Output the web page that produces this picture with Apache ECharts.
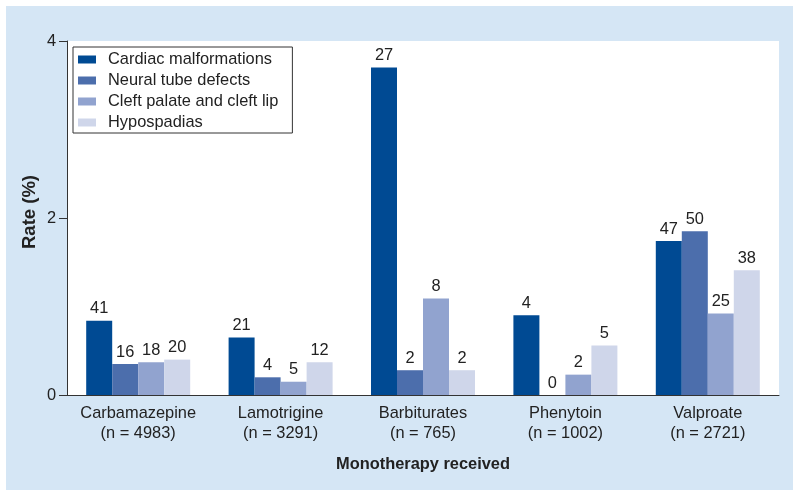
<!DOCTYPE html>
<html>
<head>
<meta charset="utf-8">
<script src="https://cdn.jsdelivr.net/npm/echarts@6/dist/echarts.min.js"></script>
<style>html,body{margin:0;padding:0;background:#fff}#c{width:800px;height:497px}</style>
</head>
<body>
<div id="c"></div>
<script>
const categories = ['Carbamazepine\n(n = 4983)', 'Lamotrigine\n(n = 3291)', 'Barbiturates\n(n = 765)', 'Phenytoin\n(n = 1002)', 'Valproate\n(n = 2721)'];
const seriesNames = ['Cardiac malformations', 'Neural tube defects', 'Cleft palate and cleft lip', 'Hypospadias'];
const cardiacRate = [0.84, 0.65, 3.70, 0.90, 1.74];
const neuralRate = [0.35, 0.20, 0.28, 0, 1.85];
const cleftRate = [0.37, 0.15, 1.09, 0.23, 0.92];
const hypoRate = [0.40, 0.37, 0.28, 0.56, 1.41];
const cardiacCount = [41, 21, 27, 4, 47];
const neuralCount = [16, 4, 2, 0, 50];
const cleftCount = [18, 5, 8, 2, 25];
const hypoCount = [20, 12, 2, 5, 38];
const yTicks = [0, 2, 4];
const yTitle = 'Rate (%)';

const colors = ['#004a93', '#4c6eac', '#91a3cf', '#cfd6ea'];
const rates = [cardiacRate, neuralRate, cleftRate, hypoRate];
const counts = [cardiacCount, neuralCount, cleftCount, hypoCount];
const FONT = '"Liberation Sans", Arial, Helvetica, sans-serif';
const FS = 16.4;

const chart = echarts.init(document.getElementById('c'), null, {renderer: 'canvas'});
chart.setOption({
  animation: false,
  backgroundColor: '#ffffff',
  textStyle: {fontFamily: FONT},
  graphic: [{
    type: 'rect', z: -10, silent: true,
    shape: {x: 6, y: 6, width: 787, height: 484},
    style: {fill: '#d5e6f5'}
  }, {
    type: 'text', z: 10, silent: true,
    x: 30, y: 212, rotation: Math.PI / 2,
    style: {text: yTitle, fill: '#222', fontSize: 18.5, fontWeight: 'bold', fontFamily: FONT,
      align: 'center', verticalAlign: 'middle'}
  }],
  grid: {left: 67, right: 21, top: 41, bottom: 102, show: true, backgroundColor: '#ffffff', borderWidth: 0},
  legend: {
    orient: 'vertical', left: 73, top: 47,
    padding: [4, 14, 2, 5],
    itemWidth: 18, itemHeight: 8, itemGap: 4,
    borderColor: '#333', borderWidth: 1, backgroundColor: '#fff',
    icon: 'rect',
    textStyle: {fontSize: FS, color: '#222', fontFamily: FONT, lineHeight: 17, padding: [0, 0, 0, 7]},
    data: seriesNames
  },
  xAxis: {
    type: 'category', data: categories,
    name: 'Monotherapy received', nameLocation: 'middle', nameGap: 61,
    nameTextStyle: {fontSize: FS, fontWeight: 'bold', color: '#222', fontFamily: FONT},
    axisLine: {lineStyle: {color: '#333', width: 1}},
    axisTick: {length: 8, lineStyle: {color: '#333'}},
    axisLabel: {fontSize: FS, color: '#222', lineHeight: 20, margin: 8, fontFamily: FONT, interval: 0, hideOverlap: false}
  },
  yAxis: {
    type: 'value', min: 0, max: 4, interval: 2,
    axisLine: {show: true, lineStyle: {color: '#333', width: 1}},
    axisTick: {show: true, length: 8, lineStyle: {color: '#333'}},
    splitLine: {show: false},
    axisLabel: {fontSize: FS, color: '#222', margin: 11, fontFamily: FONT,
      formatter: v => yTicks.includes(v) ? String(v) : ''}
  },
  series: seriesNames.map((name, i) => ({
    name, type: 'bar', barWidth: 26, barGap: '0%',
    itemStyle: {color: colors[i]},
    label: {
      show: true, position: 'top', distance: 4, fontSize: FS, color: '#222', fontFamily: FONT,
      formatter: p => String(counts[i][p.dataIndex])
    },
    data: rates[i]
  }))
});
</script>
</body>
</html>
